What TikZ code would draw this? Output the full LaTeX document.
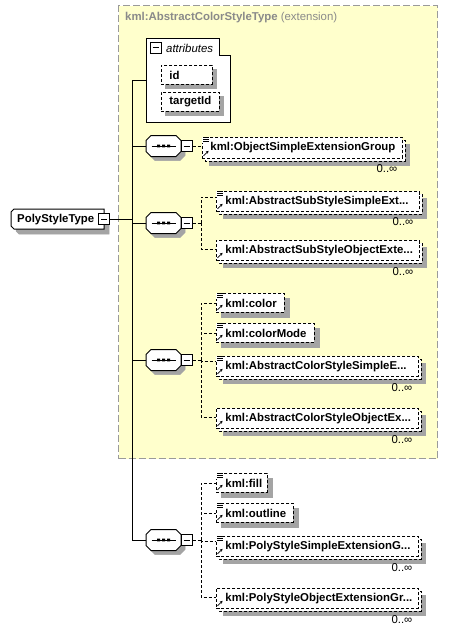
\documentclass[tikz,border=0pt]{standalone}
\usepackage{fontspec}
\setmainfont{Liberation Sans}
\usetikzlibrary{arrows.meta}
\definecolor{extfill}{HTML}{FFFFCC}
\definecolor{extborder}{HTML}{9A9A9A}
\definecolor{titlegray}{HTML}{8A8A8A}
\definecolor{shgray}{HTML}{A4A4A4}
\newcommand{\fnt}{\fontsize{11.4}{13}\selectfont}
\tikzset{
  dsh/.style={dash pattern=on 3pt off 2pt, line width=0.9pt},
  conn/.style={dash pattern=on 3pt off 2pt, line width=0.9pt},
  solidconn/.style={line width=1pt},
  elembox/.style={rectangle, draw, dsh, fill=white, anchor=north west, inner sep=0pt, align=left, font=\fnt\bfseries},
  seqbox/.style={rectangle, draw=none, minimum width=35pt, minimum height=21pt, inner sep=0pt, anchor=west},
  minusbox/.style={rectangle, draw, fill=white, line width=1pt, minimum size=11pt, inner sep=0pt,
                   path picture={\draw[line width=1pt] ([xshift=-3pt]path picture bounding box.center) -- ([xshift=3pt]path picture bounding box.center);}},
  mult/.style={font=\fnt, anchor=center, inner sep=0pt},
  iconlines/.style={line width=0.7pt},
  refarrow/.style={-{Stealth[length=2.6pt,width=3pt]}, line width=0.8pt},
  outline/.style={line width=1pt},
  shadefill/.style={draw=shgray, fill=shgray, line width=0.5pt},
}
% single element: name, x, top, width, height, text
\newcommand{\elemS}[6]{%
  \filldraw[shadefill] (#2+5,#3+5) rectangle (#2+#4+5,#3+#5+5);
  \node[elembox, text width=#4pt, minimum height=#5pt] (#1) at (#2,#3) {\hspace*{9pt}#6};}
% multiple-occurrence element
\newcommand{\elemM}[6]{%
  \filldraw[shadefill] (#2+7,#3+7) rectangle (#2+#4+7,#3+#5+7);
  \draw[dsh, fill=white] (#2+3,#3+3) rectangle (#2+#4+3,#3+#5+3);
  \node[elembox, text width=#4pt, minimum height=#5pt] (#1) at (#2,#3) {\hspace*{9pt}#6};}
\newcommand{\simpleicon}[1]{%
  \fill[white, shift={(#1.north west)}] (0,-0.5) rectangle (7,6);
  \draw[iconlines, shift={(#1.north west)}] (1,0.5) -- (7,0.5) (1,2.5) -- (7,2.5) (1,4.5) -- (7,4.5);}
\newcommand{\reficon}[1]{%
  \draw[refarrow, shift={(#1.south west)}] (1.5,-3) -- (6.5,-8);}
% sequence compositor: name, centre y
\newcommand{\seqnode}[2]{%
  \filldraw[shadefill, shift={(150,#2+4)}] (5,-10.5) -- (30,-10.5) -- (35,-5.5) -- (35,5.5) -- (30,10.5) -- (5,10.5) -- (0,5.5) -- (0,-5.5) -- cycle;
  \draw[outline, fill=white, shift={(146,#2)}] (5,-10.5) -- (30,-10.5) -- (35,-5.5) -- (35,5.5) -- (30,10.5) -- (5,10.5) -- (0,5.5) -- (0,-5.5) -- cycle;
  \node[seqbox] (#1) at (146,#2) {};
  \draw[line width=1pt, shift={(#1.center)}] (-12,0) -- (12,0);
  \fill[shift={(#1.center)}] (-6.5,-1.3) rectangle (-3.5,1.3) (-1.5,-1.3) rectangle (1.5,1.3) (3.5,-1.3) rectangle (6.5,1.3);}
\begin{document}
\begin{tikzpicture}[x=1pt,y=-1pt]
\useasboundingbox (0,0) rectangle (448,632);
\fill[white] (0,0) rectangle (448,632);
\node[draw=extborder, fill=extfill, dash pattern=on 7pt off 3pt, line width=1.2pt, minimum width=319pt, minimum height=453pt, anchor=north west, inner sep=0pt] (ext) at (118,5) {};
\node[anchor=west, text=titlegray, font=\fnt, inner sep=0pt] (title) at (125,18) {\bfseries kml:AbstractColorStyleType \mdseries(extension)};
% attributes
\draw[outline, fill=white] (146,38) -- (219,38) -- (219,55) -- (230,55) -- (230,122) -- (146,122) -- cycle;
\node[minusbox] (am) at (155.5,47.5) {};
\node[anchor=west, font=\fnt\itshape, inner sep=0pt] (attrlbl) at (166,48) {attributes};
\filldraw[shadefill] (165,69) rectangle (216,88);
\node[elembox, text width=51pt, minimum height=19pt] (aid) at (161,65) {\hspace*{8pt}id};
\filldraw[shadefill] (165,96) rectangle (223,115);
\node[elembox, text width=58pt, minimum height=19pt] (atid) at (161,92) {\hspace*{8pt}targetId};
\coordinate (attrL) at (146,80);
% root
\filldraw[shadefill] (19,214) -- (109,214) -- (109,234) -- (19,234) -- (16,231) -- (16,217) -- cycle;
\draw[outline, fill=white] (14,209) -- (104,209) -- (104,229) -- (14,229) -- (11,226) -- (11,212) -- cycle;
\node[rectangle, anchor=north west, minimum height=20pt, text width=93pt, inner sep=0pt, align=left, font=\fnt\bfseries] (pst) at (11,209) {\hspace*{6pt}PolyStyleType};
\node[minusbox] (psm) at (104,219) {};
\coordinate (tt) at (132,80);
\coordinate (tb) at (132,540);
% sequences
\seqnode{s1}{146}
\seqnode{s2}{223}
\seqnode{s3}{360}
\seqnode{s4}{540}
\node[minusbox] (m1) at (186.5,146) {};
\node[minusbox] (m2) at (186.5,223) {};
\node[minusbox] (m3) at (186.5,360) {};
\node[minusbox] (m4) at (186.5,540) {};
\coordinate (b2) at (201,223);
\coordinate (b3) at (201,360);
\coordinate (b4) at (201,540);
% elements
\filldraw[shadefill] (209,144) rectangle (409,165);
\draw[dsh, fill=white] (205,140) rectangle (405,161);
\node[elembox, text width=200pt, minimum height=21pt] (e1) at (202,137) {\hspace*{8pt}kml:ObjectSimpleExtensionGroup};
\elemM{e2}{216}{191}{203}{20}{kml:AbstractSubStyleSimpleExt...}
\elemM{e3}{216}{240}{203}{20}{kml:AbstractSubStyleObjectExte...}
\elemS{e4}{216}{293}{68}{19}{kml:color}
\elemS{e5}{216}{323}{98}{19}{kml:colorMode}
\elemM{e6}{216}{356}{202}{20}{kml:AbstractColorStyleSimpleE...}
\elemM{e7}{216}{408}{202}{20}{kml:AbstractColorStyleObjectEx...}
\elemS{e8}{216}{473}{51}{19}{kml:fill}
\elemS{e9}{216}{503}{77}{19}{kml:outline}
\elemM{e10}{216}{536}{202}{20}{kml:PolyStyleSimpleExtensionG...}
\elemM{e11}{216}{588}{202}{20}{kml:PolyStyleObjectExtensionGr...}
% icons
\simpleicon{e1}\reficon{e1}
\simpleicon{e2}\reficon{e2}
\reficon{e3}
\simpleicon{e4}\reficon{e4}
\simpleicon{e5}\reficon{e5}
\simpleicon{e6}\reficon{e6}
\reficon{e7}
\simpleicon{e8}\reficon{e8}
\simpleicon{e9}\reficon{e9}
\simpleicon{e10}\reficon{e10}
\reficon{e11}
% multiplicities
\node[mult] (n1) at ([xshift=-16pt,yshift=-10pt]e1.south east) {0..∞};
\node[mult] (n2) at ([xshift=-17pt,yshift=-10pt]e2.south east) {0..∞};
\node[mult] (n3) at ([xshift=-17pt,yshift=-11pt]e3.south east) {0..∞};
\node[mult] (n6) at ([xshift=-17pt,yshift=-11pt]e6.south east) {0..∞};
\node[mult] (n7) at ([xshift=-17pt,yshift=-11pt]e7.south east) {0..∞};
\node[mult] (n10) at ([xshift=-17pt,yshift=-11pt]e10.south east) {0..∞};
\node[mult] (n11) at ([xshift=-17pt,yshift=-11pt]e11.south east) {0..∞};
% solid connectors
\draw[solidconn] (psm.east) -- (psm.east -| tt);
\draw[solidconn] (tt) -- (tb);
\draw[solidconn] (tt) -- (attrL);
\draw[solidconn] (s1.west -| tt) -- (s1.west);
\draw[solidconn] (s2.west -| tt) -- (s2.west);
\draw[solidconn] (s3.west -| tt) -- (s3.west);
\draw[solidconn] (s4.west -| tt) -- (s4.west);
% dashed connectors
\draw[conn] (m1.east) -- (m1.east -| e1.west);
\draw[conn] (m2.east) -- (b2);
\draw[conn] (b2) |- ([yshift=4pt]e2.west);
\draw[conn] (b2) |- ([yshift=1pt]e3.west);
\draw[conn] (m3.east) -- (b3);
\draw[conn] (b3) |- (e4.west);
\draw[conn] (b3) |- (e5.west);
\draw[conn] (b3) |- ([yshift=5pt]e6.west);
\draw[conn] (b3) |- ([yshift=1pt]e7.west);
\draw[conn] (m4.east) -- (b4);
\draw[conn] (b4) |- (e8.west);
\draw[conn] (b4) |- (e9.west);
\draw[conn] (b4) |- ([yshift=5pt]e10.west);
\draw[conn] (b4) |- ([yshift=1pt]e11.west);
\end{tikzpicture}
\end{document}
